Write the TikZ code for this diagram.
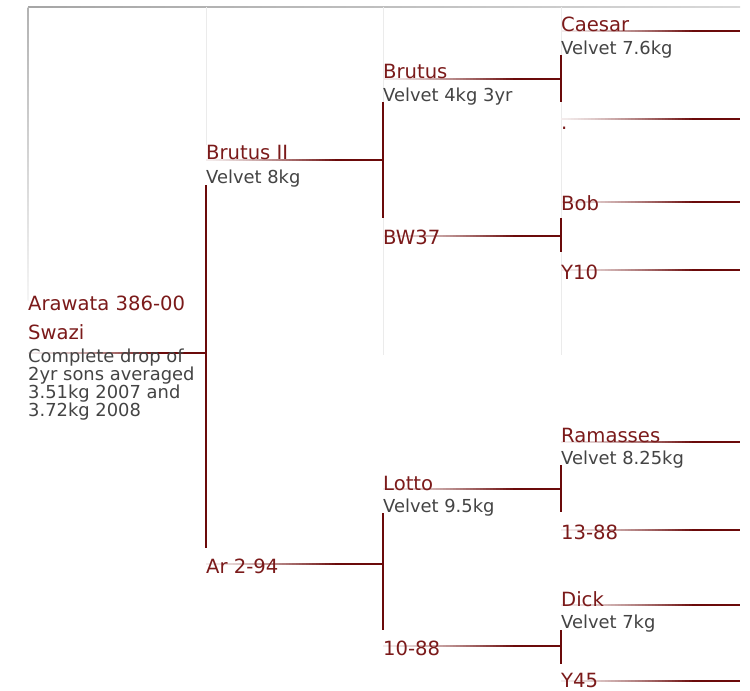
\documentclass[tikz,border=0pt]{standalone}
\usepackage{fontspec}
\setmainfont{DejaVu Sans}
\usetikzlibrary{calc}
\definecolor{namecol}{HTML}{7B1A1A}
\definecolor{linecol}{HTML}{6B0A0A}
\definecolor{desccol}{HTML}{444444}
\definecolor{gridcol}{HTML}{EBEBEB}
\pgfdeclarelayer{bottom}
\pgfdeclarelayer{connect}
\pgfsetlayers{bottom,connect,main}
\tikzset{
  namebox/.style={anchor=base west, inner sep=0pt, text=namecol, font=\fontsize{19.6}{29}\selectfont},
  descbox/.style={anchor=base west, inner sep=0pt, text=desccol, font=\fontsize{17.9}{18.3}\selectfont},
  barline/.style={draw=linecol, line width=2.3pt},
  gridline/.style={draw=gridcol, line width=1pt}
}
% gradient connector: #1 start node, #2 end x, #3 y
\newcommand{\gline}[3]{%
  \coordinate (gs) at (#1.west |- 0,#3);
  \coordinate (ge) at (#2,#3);
  \foreach \i in {0,...,39}{%
    \pgfmathsetmacro{\pa}{0.75*\i/40}%
    \pgfmathsetmacro{\pb}{0.75*(\i+1)/40+0.003}%
    \pgfmathsetmacro{\pc}{8+92*(\i/39)^1.3}%
    \fill[linecol!\pc!white] ($(gs)!\pa!(ge)+(0,-1.15)$) rectangle ($(gs)!\pb!(ge)+(0,1.15)$);
  }
  \fill[linecol] ($(gs)!0.75!(ge)+(0,-1.15)$) rectangle ($(ge)+(0,1.15)$);
}
\begin{document}
\begin{tikzpicture}[x=1pt,y=-1pt]
\useasboundingbox (0,0) rectangle (750,691);
\begin{pgfonlayer}{bottom}
\fill[white] (0,0) rectangle (750,691);
% faint grid
\shade[left color=gray!70, right color=gray!30] (28,6.5) rectangle (740,7.5);
\shade[top color=gray!60, bottom color=gray!8] (27.5,7) rectangle (28.5,300);
\draw[gridline] (206,7) -- (206,145);
\draw[gridline] (383,7) -- (383,355);
\draw[gridline] (561,7) -- (561,355);
\end{pgfonlayer}

% nodes
\node[namebox] (arawata) at (28,310) {\parbox[t]{200pt}{\raggedright Arawata 386-00\\Swazi}};
\node[descbox] (arawatad) at (28,362) {\parbox[t]{200pt}{\raggedright Complete drop of\\2yr sons averaged\\3.51kg 2007 and\\3.72kg 2008}};

\node[namebox] (brutusii) at (206,159) {Brutus II};
\node[descbox] (brutusiid) at (206,183) {Velvet 8kg};
\node[namebox] (ar294) at (206,573) {Ar 2-94};

\node[namebox] (brutus) at (383,78) {Brutus};
\node[descbox] (brutusd) at (383,101) {Velvet 4kg 3yr};
\node[namebox] (bw37) at (383,244) {BW37};
\node[namebox] (lotto) at (383,490) {Lotto};
\node[descbox] (lottod) at (383,512) {Velvet 9.5kg};
\node[namebox] (t1088) at (383,655) {10-88};

\node[namebox] (caesar) at (561,31) {Caesar};
\node[descbox] (caesard) at (561,54) {Velvet 7.6kg};
\node[namebox] (dot) at (561,129) {.};
\node[namebox] (bob) at (561,210) {Bob};
\node[namebox] (y10) at (561,279) {Y10};
\node[namebox] (ramasses) at (561,442) {Ramasses};
\node[descbox] (ramassesd) at (561,464) {Velvet 8.25kg};
\node[namebox] (t1388) at (561,539) {13-88};
\node[namebox] (dick) at (561,606) {Dick};
\node[descbox] (dickd) at (561,628) {Velvet 7kg};
\node[namebox] (y45) at (561,687) {Y45};

\begin{pgfonlayer}{connect}
% vertical bars
\draw[barline] (206,185) -- (206,548);
\draw[barline] (383,102) -- (383,218);
\draw[barline] (383,513) -- (383,630);
\draw[barline] (561,55) -- (561,102);
\draw[barline] (561,218) -- (561,252);
\draw[barline] (561,465) -- (561,512);
\draw[barline] (561,630) -- (561,664);
% connectors
\gline{arawata}{206}{353}
\gline{brutusii}{383}{160}
\gline{ar294}{383}{564}
\gline{brutus}{561}{79}
\gline{bw37}{561}{236}
\gline{lotto}{561}{489}
\gline{t1088}{561}{646}
\gline{caesar}{740}{31}
\gline{dot}{740}{119}
\gline{bob}{740}{202}
\gline{y10}{740}{270}
\gline{ramasses}{740}{442}
\gline{t1388}{740}{530}
\gline{dick}{740}{605}
\gline{y45}{740}{681}
\end{pgfonlayer}
\end{tikzpicture}
\end{document}
